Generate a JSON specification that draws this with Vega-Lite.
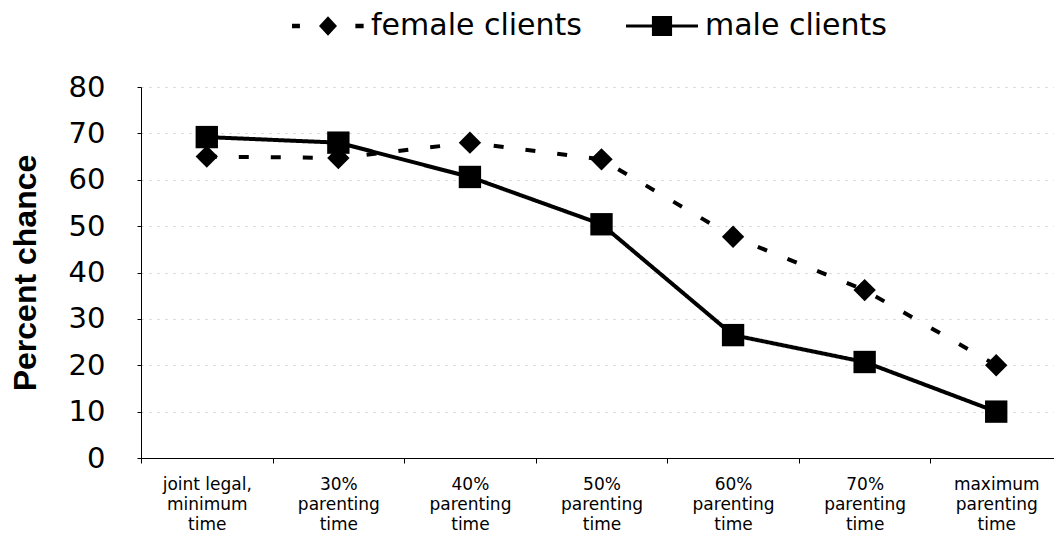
{
  "$schema": "https://vega.github.io/schema/vega-lite/v6.json",
  "width": 913,
  "height": 371,
  "autosize": {"type": "none"},
  "padding": {"left": 141, "top": 87, "right": 0, "bottom": 84},
  "background": "white",
  "config": {"view": {"stroke": null}, "font": "DejaVu Sans"},
  "data": {
    "values": [
      {"time": "joint legal,|minimum|time", "series": "female clients", "pct": 65},
      {"time": "30%|parenting|time", "series": "female clients", "pct": 64.7},
      {"time": "40%|parenting|time", "series": "female clients", "pct": 68},
      {"time": "50%|parenting|time", "series": "female clients", "pct": 64.4},
      {"time": "60%|parenting|time", "series": "female clients", "pct": 47.7},
      {"time": "70%|parenting|time", "series": "female clients", "pct": 36.2},
      {"time": "maximum|parenting|time", "series": "female clients", "pct": 20},
      {"time": "joint legal,|minimum|time", "series": "male clients", "pct": 69.2},
      {"time": "30%|parenting|time", "series": "male clients", "pct": 68},
      {"time": "40%|parenting|time", "series": "male clients", "pct": 60.6},
      {"time": "50%|parenting|time", "series": "male clients", "pct": 50.4},
      {"time": "60%|parenting|time", "series": "male clients", "pct": 26.5},
      {"time": "70%|parenting|time", "series": "male clients", "pct": 20.7},
      {"time": "maximum|parenting|time", "series": "male clients", "pct": 10}
    ]
  },
  "encoding": {
    "x": {
      "field": "time",
      "type": "nominal",
      "sort": null,
      "scale": {"type": "band", "paddingInner": 0, "paddingOuter": 0, "range": [0, 921]},
      "axis": {
        "title": null,
        "labelAngle": 0,
        "labelExpr": "split(datum.label, '|')",
        "labelFont": "DejaVu Sans",
        "labelFontSize": 17,
        "labelLineHeight": 20,
        "labelColor": "black",
        "labelPadding": 13,
        "labelBaseline": "top",
        "labelLimit": 0,
        "tickSize": 5,
        "tickColor": "black",
        "tickBand": "extent",
        "domainColor": "black",
        "domainWidth": 1,
        "grid": false
      }
    },
    "y": {
      "field": "pct",
      "type": "quantitative",
      "scale": {"domain": [0, 80]},
      "axis": {
        "values": [0, 10, 20, 30, 40, 50, 60, 70, 80],
        "title": "Percent chance",
        "titleFont": "Liberation Sans",
        "titleFontSize": 32,
        "titleFontWeight": "bold",
        "titleColor": "black",
        "titleX": -116,
        "titleY": 185.5,
        "titleAngle": -90,
        "titleBaseline": "middle",
        "titleAlign": "center",
        "labelFont": "DejaVu Sans",
        "labelFontSize": 29,
        "labelColor": "black",
        "labelPadding": 32,
        "labelOverlap": false,
        "tickSize": 4,
        "tickColor": "black",
        "domainColor": "black",
        "gridColor": "#aaaaaa",
        "gridDash": [2, 6],
        "gridOpacity": 0.6
      }
    }
  },
  "layer": [
    {
      "mark": {"type": "line", "color": "black", "strokeWidth": 4},
      "encoding": {
        "strokeDash": {
          "field": "series",
          "type": "nominal",
          "scale": {"domain": ["female clients", "male clients"], "range": [[10, 22], [1, 0]]},
          "legend": null
        }
      }
    },
    {
      "mark": {"type": "point", "filled": true, "color": "black", "opacity": 1, "size": 500},
      "encoding": {
        "shape": {
          "field": "series",
          "type": "nominal",
          "scale": {"domain": ["female clients", "male clients"], "range": ["diamond", "square"]},
          "legend": null
        }
      }
    },
    {
      "mark": {"type": "point", "filled": true, "color": "black", "opacity": 0},
      "encoding": {
        "shape": {
          "field": "series",
          "type": "nominal",
          "scale": {
            "domain": ["female clients", "male clients"],
            "range": [
              "M-1,-0.06H-0.78V0.06H-1Z M-0.25,0L0,-0.27L0.25,0L0,0.27Z M0.76,-0.06H0.99V0.06H0.76Z",
              "M-1,-0.045H1V0.045H-1Z M-0.28,-0.28H0.28V0.28H-0.28Z"
            ]
          },
          "legend": {
            "title": null,
            "orient": "none",
            "legendX": 151,
            "legendY": -97,
            "direction": "horizontal",
            "symbolSize": 5184,
            "symbolFillColor": "black",
            "symbolStrokeWidth": 0,
            "symbolOpacity": 1,
            "labelFont": "DejaVu Sans",
            "labelFontSize": 30,
            "labelColor": "black",
            "labelOffset": 7,
            "labelLimit": 0,
            "columnPadding": 44,
            "padding": 0
          }
        }
      }
    }
  ],
  "resolve": {"scale": {"shape": "independent"}, "legend": {"shape": "independent"}}
}
